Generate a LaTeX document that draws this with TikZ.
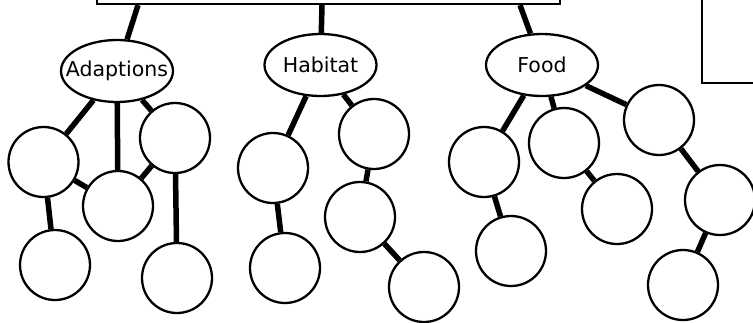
\documentclass[tikz,border=0pt]{standalone}
\usepackage{fontspec}
\setmainfont{DejaVu Sans}
\usetikzlibrary{shapes.geometric}
\begin{document}
\begin{tikzpicture}[x=1pt,y=-1pt,
  bubble/.style={circle,draw,line width=2.3pt,fill=white,minimum size=70pt,inner sep=0pt},
  topicoval/.style={ellipse,draw,line width=2.3pt,fill=white,minimum width=112pt,minimum height=62pt,inner sep=0pt,font=\fontsize{20.5}{24}\selectfont},
  framebox/.style={rectangle,draw,line width=2.2pt,inner sep=0pt},
  link/.style={line width=5.5pt}]
\useasboundingbox (0,0) rectangle (753,322);
\clip (0,0) rectangle (753,322);

% boxes at the top, running off the edges
\node[framebox,minimum width=463pt,minimum height=60pt] (topic) at (328.5,-26) {};
\node[framebox,minimum width=120pt,minimum height=140pt] (side) at (762,13) {};

% the three sub-topics (labels set in zero-width boxes so the ovals keep their size)
\node[topicoval] (adapt) at (117,71) {\makebox[0pt]{Adaptions}};
\node[topicoval] (habitat) at (320.5,65) {\makebox[0pt]{Habitat}};
\node[topicoval] (food) at (542,65) {\makebox[0pt]{Food}};

% Adaptions bubbles
\node[bubble] (a1) at (43.5,162) {};
\node[bubble] (a2) at (118,206) {};
\node[bubble] (a3) at (175,138) {};
\node[bubble] (a4) at (55,265) {};
\node[bubble] (a5) at (177,278) {};

% Habitat bubbles
\node[bubble] (h1) at (273,168) {};
\node[bubble] (h2) at (374,134) {};
\node[bubble] (h3) at (360,217) {};
\node[bubble] (h4) at (285,268) {};
\node[bubble] (h5) at (424,287) {};

% Food bubbles
\node[bubble] (f1) at (484,162) {};
\node[bubble] (f2) at (564,143) {};
\node[bubble] (f3) at (659,120) {};
\node[bubble] (f4) at (511,251) {};
\node[bubble] (f5) at (617,209) {};
\node[bubble] (f6) at (720,200) {};
\node[bubble] (f7) at (683,285) {};

% connectors from the top box
\coordinate (ta) at (topic.south -| 138,0);
\coordinate (th) at (topic.south -| 322,0);
\coordinate (tf) at (topic.south -| 520,0);
\draw[link] (ta) -- (adapt);
\draw[link] (th) -- (habitat);
\draw[link] (tf) -- (food);

% Adaptions branches
\draw[link] (adapt) -- (a1);
\draw[link] (adapt) -- (a2);
\draw[link] (adapt) -- (a3);
\draw[link] (a1) -- (a2);
\draw[link] (a3) -- (a2);
\draw[link] (a1) -- (a4);
\draw[link] (a3) -- (a5);

% Habitat branches
\draw[link] (habitat) -- (h1);
\draw[link] (habitat) -- (h2);
\draw[link] (h1) -- (h4);
\draw[link] (h2) -- (h3);
\draw[link] (h3) -- (h5);

% Food branches
\draw[link] (food) -- (f1);
\draw[link] (food) -- (f2);
\draw[link] (food) -- (f3);
\draw[link] (f1) -- (f4);
\draw[link] (f2) -- (f5);
\draw[link] (f3) -- (f6);
\draw[link] (f6) -- (f7);
\end{tikzpicture}
\end{document}
